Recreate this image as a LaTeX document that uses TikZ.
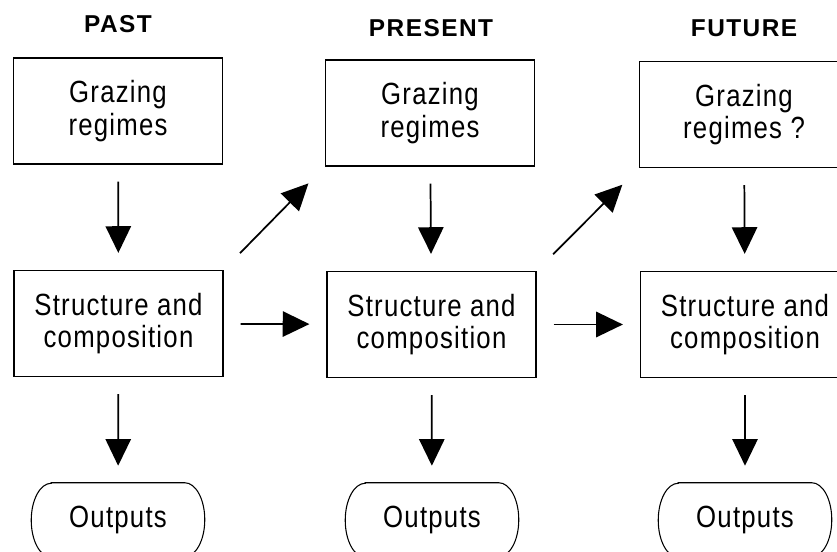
\documentclass[tikz,border=0pt]{standalone}
\usepackage{fontspec}
\setmainfont{Liberation Sans}[LetterSpace=4, FakeStretch=0.84]
\newfontfamily\hdrfont{Liberation Sans}[LetterSpace=6]
\usetikzlibrary{arrows.meta}
\begin{document}
\begin{tikzpicture}[x=0.75pt,y=-0.75pt,
  box/.style={draw, line width=0.9pt, minimum width=156.75pt, minimum height=79.5pt,
    align=center, inner sep=0pt, font=\fontsize{23pt}{24.5pt}\selectfont},
  hdr/.style={anchor=base, font=\hdrfont\bfseries\fontsize{18.3pt}{22pt}\selectfont},
  outtext/.style={minimum width=129.75pt, minimum height=55.5pt, inner sep=0pt,
    font=\fontsize{23pt}{24.5pt}\selectfont},
  flow/.style={line width=1.3pt, -{Triangle[length=20pt,width=19pt]},
    shorten <=12.75pt, shorten >=12.75pt},
  diag/.style={flow, shorten <=17.6pt, shorten >=17.6pt}]
\useasboundingbox (0,0) rectangle (837,552);
\clip (0,0) rectangle (837,552);

% column headings
\node[hdr] (hpast) at (118,33) {PAST};
\node[hdr] (hpres) at (431,36.5) {PRESENT};
\node[hdr] (hfut)  at (744,36.5) {FUTURE};

% grazing regimes
\node[box] (g1) at (118,111)   {Grazing\\regimes};
\node[box] (g2) at (430,113)   {Grazing\\regimes};
\node[box] (g3) at (744,114.5) {Grazing\\regimes ?};

% structure and composition
\node[box] (s1) at (118.5,323.5) {Structure and\\composition};
\node[box] (s2) at (431.5,324.5) {Structure and\\composition};
\node[box] (s3) at (745,324.5)   {Structure and\\composition};

% outputs
\node[outtext] (o1) at (118,520) {Outputs};
\node[outtext] (o2) at (432,520) {Outputs};
\node[outtext] (o3) at (745,520) {Outputs};
\foreach \o in {o1,o2,o3}{
  \draw[line width=0.8pt] ([xshift=15pt]\o.north west) -- ([xshift=-15pt]\o.north east)
    arc[start angle=90, end angle=-90, x radius=15pt, y radius=27.75pt]
    -- ([xshift=15pt]\o.south west)
    arc[start angle=270, end angle=90, x radius=15pt, y radius=27.75pt] -- cycle;
}

% connectors
\foreach \i in {1,2,3}{
  \draw[flow] (g\i) -- (s\i);
  \draw[flow] (s\i) -- (o\i);
}
\draw[flow] (s1) -- (s2);
\draw[flow] (s2) -- (s3);
\draw[diag] (s1.north east) -- (g2.south west);
\draw[diag] (s2.north east) -- (g3.south west);
\end{tikzpicture}
\end{document}
